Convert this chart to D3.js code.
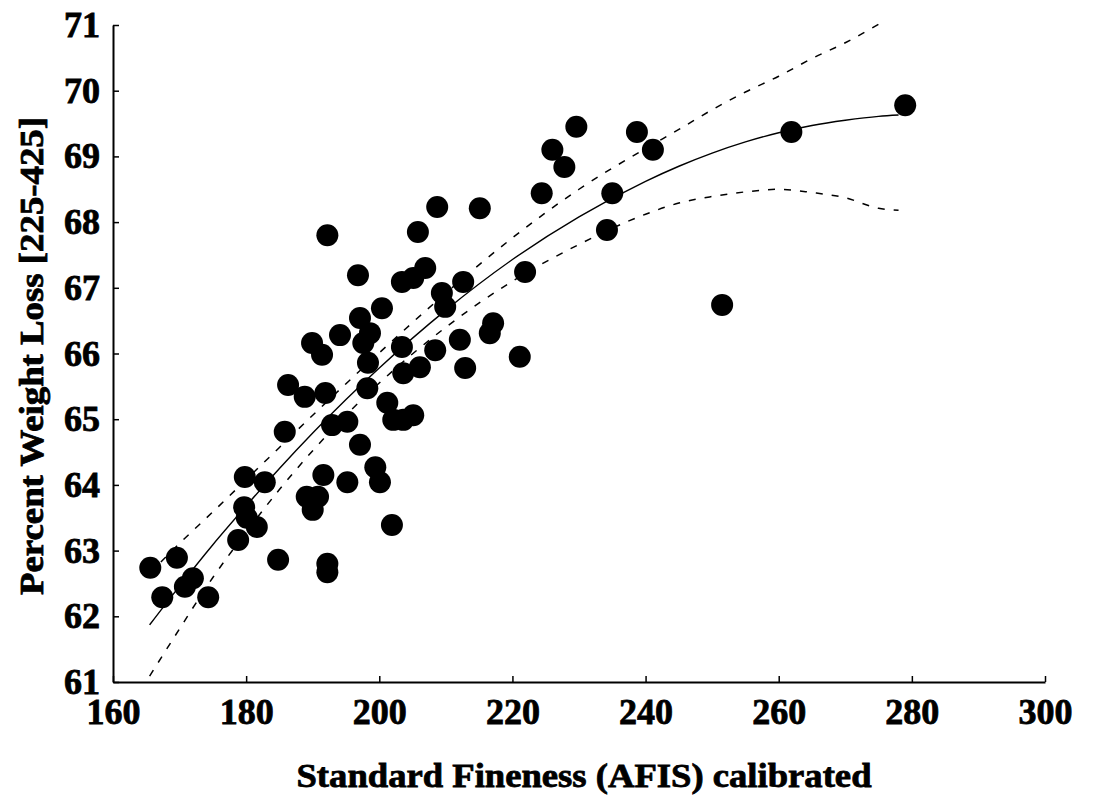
<!DOCTYPE html>
<html>
<head>
<meta charset="utf-8">
<script src="https://cdn.jsdelivr.net/npm/d3@7"></script>
<style>
  body { margin: 0; background: #fff; }
  text { font-family: "Liberation Serif", "Times New Roman", serif; font-weight: bold; }
</style>
</head>
<body>
<svg id="chart" width="1094" height="802"></svg>
<script>
// scatter values
const fineness = [165.6, 167.4, 169.6, 172.0, 170.8, 174.3, 179.8, 182.8, 179.7, 180.1,
    181.6, 178.8, 184.8, 185.8, 186.3, 188.8, 189.9, 191.4, 189.1, 190.8,
    190.0, 192.2, 192.2, 192.2, 191.9, 192.9, 191.6, 194.1, 195.2, 195.2,
    196.8, 197.1, 198.6, 197.6, 198.3, 198.2, 197.1, 200.4, 199.4, 200.1,
    201.2, 202.1, 203.6, 205.1, 201.9, 203.4, 205.1, 206.9, 203.4, 203.6,
    206.1, 205.8, 208.7, 209.4, 209.9, 208.4, 212.6, 212.1, 212.9, 215.1,
    217.1, 216.6, 221.1, 221.9, 224.4, 226.0, 227.8, 229.6, 234.2, 235.0,
    238.7, 241.1, 251.5, 261.9, 279.0];
const weightLoss = [62.74, 62.29, 62.89, 62.58, 62.45, 62.29, 64.12, 64.04, 63.66, 63.50,
    63.36, 63.16, 62.86, 64.81, 65.52, 65.34, 66.16, 65.98, 63.82, 63.82,
    63.62, 62.80, 62.67, 67.80, 65.40, 64.91, 64.15, 66.28, 64.96, 64.04,
    67.19, 66.54, 66.31, 66.16, 65.86, 65.47, 64.61, 66.69, 64.27, 64.04,
    65.25, 64.99, 64.99, 65.06, 63.39, 67.09, 67.15, 67.30, 66.10, 65.70,
    65.79, 67.85, 68.23, 66.92, 66.71, 66.05, 67.09, 66.21, 65.78, 68.21,
    66.46, 66.31, 65.95, 67.24, 68.44, 69.10, 68.84, 69.45, 67.88, 68.44,
    69.37, 69.10, 66.74, 69.37, 69.78];

// fitted curve and its bands
const fitX = [165.5, 170, 175, 180, 185, 190, 195, 200, 210, 220, 230, 240, 245, 250, 255, 260, 265, 270, 275, 278];
const fitY = [61.87, 62.46, 63.09, 63.68, 64.25, 64.79, 65.30, 65.78, 66.66, 67.43, 68.08, 68.62, 68.85, 69.05, 69.22, 69.36, 69.47, 69.55, 69.61, 69.63];
const upperY = [62.65, 63.11, 63.59, 64.08, 64.57, 65.06, 65.54, 66.01, 66.92, 67.76, 68.50, 69.12, 69.41, 69.71, 69.98, 70.22, 70.49, 70.73, 71.01];
const lowerY = [61.09, 61.81, 62.59, 63.28, 63.93, 64.52, 65.06, 65.55, 66.40, 67.10, 67.66, 68.12, 68.29, 68.39, 68.46, 68.50, 68.45, 68.37, 68.21, 68.18];

const xTicks = [160, 180, 200, 220, 240, 260, 280, 300];
const yTicks = [61, 62, 63, 64, 65, 66, 67, 68, 69, 70, 71];

const svg = d3.select("#chart");
const margin = { top: 25, left: 113 };
const chartWidth = 932;
const chartHeight = 657;

const g = svg.append("g")
    .attr("transform", `translate(${margin.left},${margin.top})`);

const x = d3.scaleLinear().domain([160, 300]).range([0, chartWidth]);
const y = d3.scaleLinear().domain([61, 71]).range([chartHeight, 0]);

// axes, ticks point inward
const xAxis = g.append("g")
    .attr("transform", `translate(0,${chartHeight})`)
    .call(d3.axisBottom(x).tickValues(xTicks).tickSizeInner(-6).tickSizeOuter(0).tickPadding(16));

const yAxis = g.append("g")
    .call(d3.axisLeft(y).tickValues(yTicks).tickSizeInner(-6).tickSizeOuter(0).tickPadding(13));

[xAxis, yAxis].forEach(ax => {
    ax.select(".domain").attr("stroke", "#000").attr("stroke-width", 2);
    ax.selectAll(".tick line").attr("stroke", "#000").attr("stroke-width", 1.5);
    ax.selectAll(".tick text")
        .attr("fill", "#000")
        .style("font-size", "36px")
        .attr("stroke", "#000")
        .attr("stroke-width", 0.8);
});

// lines
const line = d3.line()
    .x(d => x(d[0]))
    .y(d => y(d[1]))
    .curve(d3.curveMonotoneX);

g.append("path")
    .datum(fitX.map((v, i) => [v, fitY[i]]))
    .attr("fill", "none")
    .attr("stroke", "#000")
    .attr("stroke-width", 1.4)
    .attr("d", line);

[upperY, lowerY].forEach(band => {
    g.append("path")
        .datum(band.map((v, i) => [fitX[i], v]))
        .attr("fill", "none")
        .attr("stroke", "#000")
        .attr("stroke-width", 1.5)
        .attr("stroke-dasharray", "7,9")
        .attr("d", line);
});

// points
g.selectAll("circle")
    .data(fineness.map((v, i) => [v, weightLoss[i]]))
    .enter()
    .append("circle")
    .attr("cx", d => x(d[0]))
    .attr("cy", d => y(d[1]))
    .attr("r", 11)
    .attr("fill", "#000");

// axis titles
svg.append("text")
    .attr("x", 584)
    .attr("y", 787)
    .attr("text-anchor", "middle")
    .attr("textLength", 575)
    .attr("lengthAdjust", "spacingAndGlyphs")
    .attr("stroke", "#000")
    .attr("stroke-width", 0.8)
    .style("font-size", "34px")
    .text("Standard Fineness (AFIS) calibrated");

svg.append("text")
    .attr("transform", "translate(43,356) rotate(-90)")
    .attr("text-anchor", "middle")
    .attr("textLength", 478)
    .attr("lengthAdjust", "spacingAndGlyphs")
    .attr("stroke", "#000")
    .attr("stroke-width", 0.8)
    .style("font-size", "34px")
    .text("Percent Weight Loss [225-425]");
</script>
</body>
</html>
